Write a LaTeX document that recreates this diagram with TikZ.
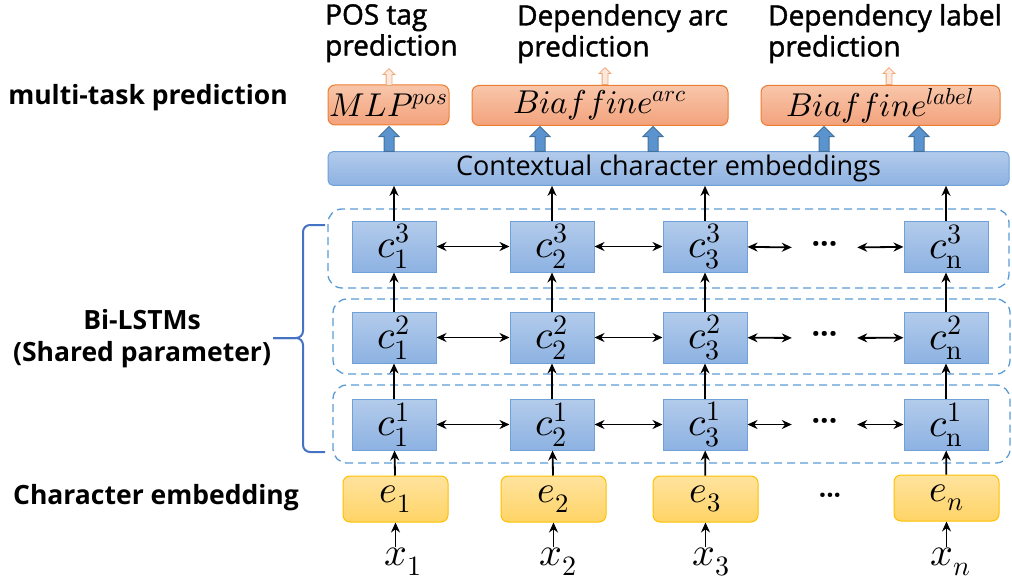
\documentclass[tikz,border=0pt]{standalone}
\usepackage{fontspec,unicode-math}
\setmainfont{Open Sans}
\setmathfont{Latin Modern Math}
\newfontfamily\ttlfont{Open Sans}[FakeBold=1.5]
\usetikzlibrary{arrows.meta,positioning,shapes.arrows,calc}
\definecolor{cellT}{HTML}{B3CBEB}
\definecolor{cellB}{HTML}{8DB2E2}
\definecolor{cellD}{HTML}{6FA0D8}
\definecolor{orgT}{HTML}{F8C6AA}
\definecolor{orgB}{HTML}{F3A27C}
\definecolor{orgD}{HTML}{ED7D31}
\definecolor{yelT}{HTML}{FFE39E}
\definecolor{yelB}{HTML}{FFD466}
\definecolor{yelD}{HTML}{FFC000}
\definecolor{dsh}{HTML}{5B9BD5}
\definecolor{brc}{HTML}{4472C4}
\definecolor{fatF}{HTML}{5B93CF}
\definecolor{fatD}{HTML}{41719C}
\newcommand{\fsz}[2]{\fontsize{#1}{#2}\selectfont}
\tikzset{
  cell/.style={draw=cellD,line width=1pt,top color=cellT,bottom color=cellB,minimum width=84pt,minimum height=51pt,inner sep=0pt,font=\fsz{40}{44}},
  emb/.style={draw=yelD,line width=1pt,rounded corners=7pt,top color=yelT,bottom color=yelB,minimum width=105pt,minimum height=46pt,inner sep=0pt,font=\fsz{38}{42}},
  taskbox/.style={draw=orgD,line width=1pt,rounded corners=7pt,top color=orgT,bottom color=orgB,minimum height=40pt,inner sep=0pt,font=\fsz{33}{36}},
  layer/.style={draw=dsh,line width=1.3pt,dash pattern=on 8pt off 5pt,rounded corners=14pt},
  ar/.style={-{Stealth[length=10pt,width=9pt]},line width=1.8pt},
  biar/.style={{Stealth[length=10pt,width=9pt]}-{Stealth[length=10pt,width=9pt]},line width=1.8pt},
  blockar/.style={single arrow,shape border rotate=90,draw=fatD,fill=fatF,line width=1pt,minimum height=25pt,minimum width=0pt,single arrow head extend=5pt,inner sep=4.5pt},
  hollowar/.style={single arrow,shape border rotate=90,draw=orgD!70,fill=orgT!40,line width=0.8pt,minimum height=17pt,minimum width=0pt,single arrow head extend=3pt,inner sep=2.5pt},
  dots/.style={minimum width=65pt,minimum height=51pt,inner sep=0pt,font=\fsz{30}{30}\bfseries},
  lbl/.style={font=\fsz{26.5}{32}\bfseries,align=center},
  ttl/.style={font=\ttlfont\fsz{28}{31},align=left,anchor=north west,inner sep=0pt},
  xin/.style={font=\fsz{40}{44},inner sep=1pt},
}
\begin{document}
\begin{tikzpicture}[x=1pt,y=-1pt]
\useasboundingbox (0,0) rectangle (1012,583);
% task labels
\node[ttl] (tpos) at (325,4) {POS tag\\prediction};
\node[ttl] (tarc) at (517,4) {Dependency arc\\prediction};
\node[ttl] (tlab) at (768,4) {Dependency label\\prediction};
\node[lbl] (lmt) at (148,98) {multi-task prediction};
\node[lbl] (lbi) at (142,339) {Bi-LSTMs\\(Shared parameter)};
\node[lbl] (lce) at (156,498) {Character embedding};
% task heads
\node[taskbox,minimum width=121pt] (mlp) at (388.5,105) {$MLP^{pos}$};
\node[taskbox,minimum width=256pt] (barc) at (600,105.5) {$Biaffine^{arc}$};
\node[taskbox,minimum width=239pt] (blab) at (880.5,105.5) {$Biaffine^{label}$};
\node[hollowar,anchor=tail] (omlp) at (389,86) {};
\node[hollowar,anchor=tail] (oarc) at (605,85) {};
\node[hollowar,anchor=tail] (olab) at (889,85) {};
\node[draw=cellD,line width=1pt,rounded corners=5pt,top color=cellT,bottom color=cellB,minimum width=681pt,minimum height=33pt,font=\fsz{27}{30}] (ctx) at (668.5,168.5) {Contextual character embeddings};
\node[blockar,anchor=tail] (f1) at (389,152) {};
\node[blockar,anchor=tail] (f2) at (540,152) {};
\node[blockar,anchor=tail] (f3) at (653,152) {};
\node[blockar,anchor=tail] (f4) at (824,152) {};
\node[blockar,anchor=tail] (f5) at (919,152) {};
% bi-lstm layers
\node[layer,minimum width=681pt,minimum height=79pt] (l3) at (668.5,248.5) {};
\node[layer,minimum width=677pt,minimum height=75pt] (l2) at (671.5,336.5) {};
\node[layer,minimum width=677pt,minimum height=78pt] (l1) at (671.5,424) {};
\node[cell] (c11) at (394,424.5) {$c_1^1$};
\node[cell] (c21) at (552,424.5) {$c_2^1$};
\node[cell] (c31) at (705,424.5) {$c_3^1$};
\node[dots] (d1) at (824.5,424.5) {···};
\node[cell] (cn1) at (946,424.5) {$c_{\symup{n}}^1$};
\node[cell,above=35pt of c11] (c12) {$c_1^2$};
\node[cell,above=35pt of c21] (c22) {$c_2^2$};
\node[cell,above=35pt of c31] (c32) {$c_3^2$};
\node[dots,above=35pt of d1] (d2) {···};
\node[cell,above=35pt of cn1] (cn2) {$c_{\symup{n}}^2$};
\node[cell,above=39pt of c12] (c13) {$c_1^3$};
\node[cell,above=39pt of c22] (c23) {$c_2^3$};
\node[cell,above=39pt of c32] (c33) {$c_3^3$};
\node[dots,above=39pt of d2] (d3) {···};
\node[cell,above=39pt of cn2] (cn3) {$c_{\symup{n}}^3$};
% character embeddings
\node[emb] (e1) at (395.5,499) {$e_1$};
\node[emb] (e2) at (553.5,499) {$e_2$};
\node[emb] (e3) at (705.5,499) {$e_3$};
\node[dots,font=\fsz{26}{26}\bfseries] (de) at (830,499) {···};
\node[emb] (en) at (946.5,498) {$e_n$};
\node[xin] (x1) at (403,562) {$x_1$};
\node[xin] (x2) at (558,562) {$x_2$};
\node[xin] (x3) at (711,562) {$x_3$};
\node[xin] (xn) at (951,562) {$x_n$};
% connectors
\foreach \a/\b in {c11/c21,c21/c31,c31/d1,d1/cn1,c12/c22,c22/c32,c32/d2,d2/cn2,c13/c23,c23/c33,c33/d3,d3/cn3}
  \draw[biar] (\a) -- (\b);
\foreach \c in {1,2,3,n} {
  \draw[ar] (e\c) -- (c\c1);
  \draw[ar] (c\c1) -- (c\c2);
  \draw[ar] (c\c2) -- (c\c3);
  \draw[ar] (c\c3.north) -- (c\c3.north |- ctx.south);
  \draw[ar,line width=1.4pt] (e\c.south |- x\c.north) -- (e\c.south);
}
% brace
\coordinate (bt) at (325,225);
\coordinate (bb) at (325,452);
\coordinate (bm) at (273,338);
\draw[brc,line width=2pt,rounded corners=7pt] (bt) -- (303,225) -- (303,338) -- (bm);
\draw[brc,line width=2pt,rounded corners=7pt] (bm) -- (303,338) -- (303,452) -- (bb);
\end{tikzpicture}
\end{document}
